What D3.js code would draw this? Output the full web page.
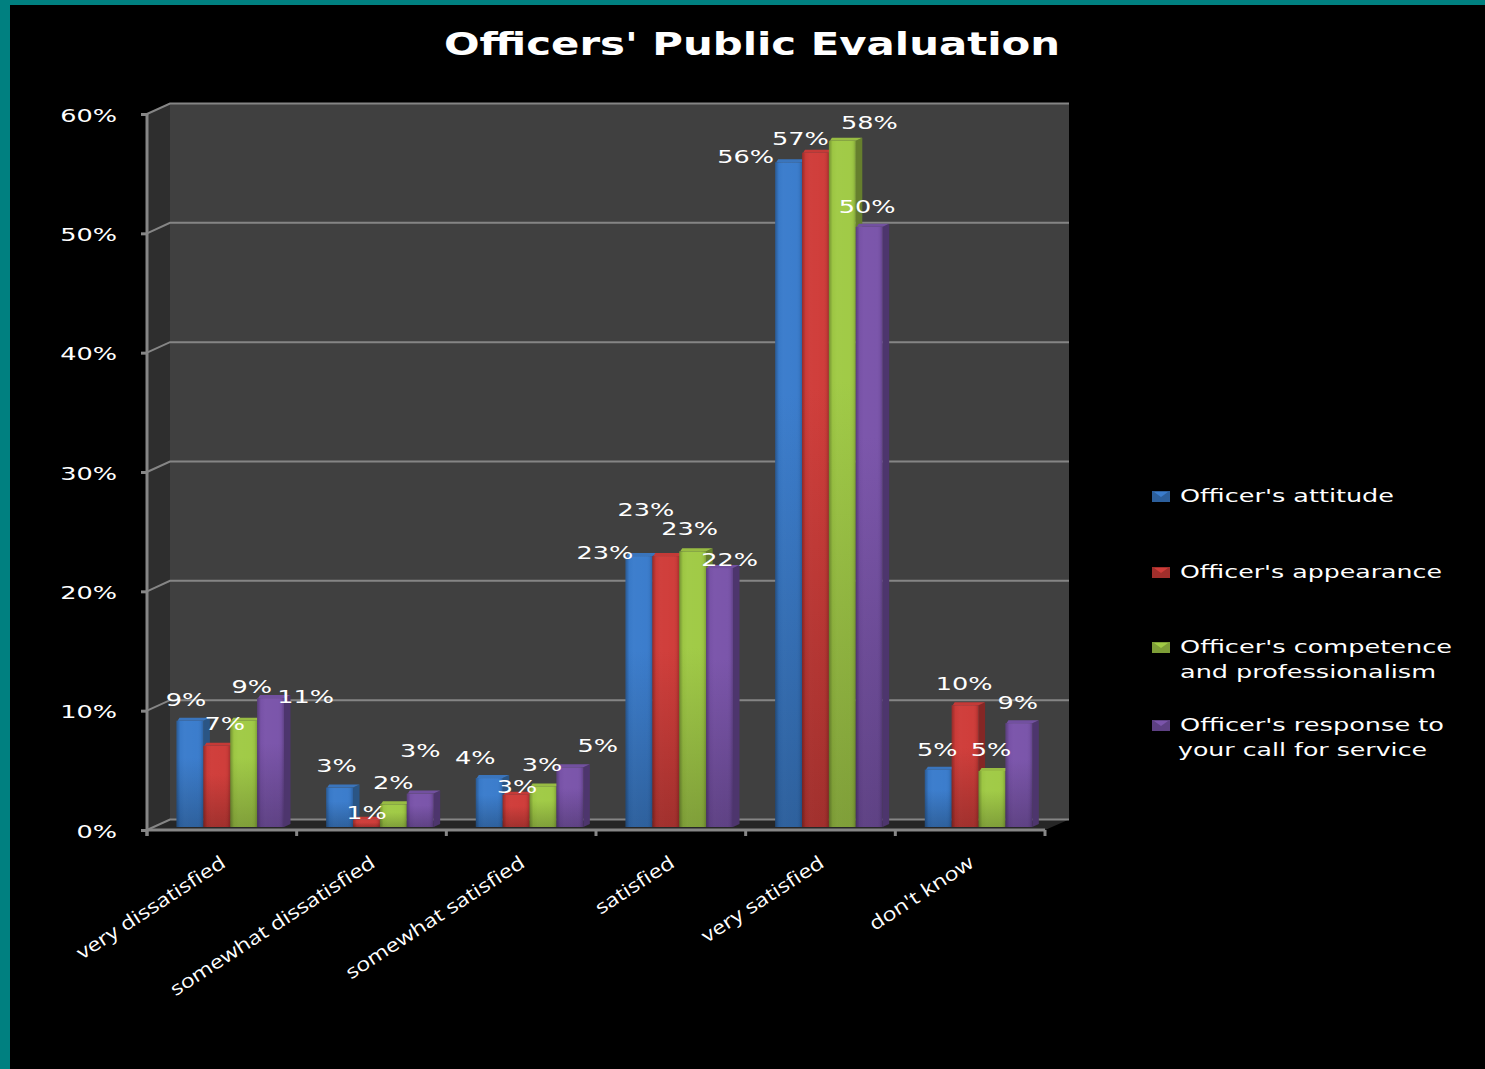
<!DOCTYPE html>
<html><head><meta charset="utf-8">
<script src="https://cdn.jsdelivr.net/npm/d3@7"></script>
<style>
html,body{margin:0;padding:0;background:#000;overflow:hidden}
svg{display:block}
text{fill:#fff;font-family:"DejaVu Sans",sans-serif}
</style></head><body>
<svg id="c" width="1485" height="1069"></svg>
<script>
// ---- data ----
const categories = ["very dissatisfied","somewhat dissatisfied","somewhat satisfied","satisfied","very satisfied","don't know"];
const attitude    = [8.9, 3.3, 4.1, 22.7, 55.7, 4.8];
const appearance  = [6.8, 0.6, 2.7, 22.7, 56.5, 10.2];
const competence  = [8.9, 1.9, 3.4, 23.1, 57.5, 4.7];
const response    = [10.8, 2.8, 5.0, 21.7, 50.3, 8.7];
const seriesNames = [["Officer's attitude"],["Officer's appearance"],["Officer's competence","and professionalism"],["Officer's response to","your call for service"]];
const yTicks = [0,10,20,30,40,50,60];
const title = "Officers' Public Evaluation";

// ---- layout and style ----
const seriesValues = [attitude, appearance, competence, response];
const colors = [
  {hi:"#3a7ccc",lo:"#2c5f9c",side:"#2a5585",top:"#3a75bd"},
  {hi:"#cf3c39",lo:"#a02e2b",side:"#852725",top:"#c53a37"},
  {hi:"#a0ca45",lo:"#7e9e37",side:"#667f2d",top:"#98bc43"},
  {hi:"#7a54aa",lo:"#5d4083",side:"#4d356d",top:"#7250a0"}
];
// data label nudges from each bar's top centre, by series then category
const labelNudge = [
  [[-4,-22],[-3,-23],[-14,-21],[-34,-4],[-43,-6],[-1,-21]],
  [[8,-23],[0,-8],[1,-9],[-20,-47],[-15,-15],[-1,-22]],
  [[8,-35],[0,-22],[-1,-22],[-3,-23],[27,-19],[-1,-22]],
  [[35,-2],[0,-44],[28,-22],[10,-9],[-2,-21],[-1,-21]]
];
const legendRows = [[502],[578],[653,678],[731,756]];
const legendWidths = [[214],[262],[272,256],[264,249]];
const W = 1485, H = 1069;
const left = 147, right = 1045, floorY = 830, topY = 114;
const depthX = 23, depthY = 10.5;
const svg = d3.select("#c");

svg.append("rect").attr("width",W).attr("height",H).attr("fill","#000");
svg.append("rect").attr("width",W).attr("height",5).attr("fill","#008080");
svg.append("rect").attr("width",10).attr("height",H).attr("fill","#008080");

const y = d3.scaleLinear().domain([0,60]).range([floorY,topY]);
const x = d3.scaleBand().domain(categories).range([left,right]);
const xs = d3.scaleBand().domain(d3.range(4)).range([29.5,29.5+107.5]);
const barBase = -3; // bars stand slightly behind the front edge of the floor
const poly = pts => pts.map(p=>p.join(",")).join(" ");
const backRight = right+depthX+1;

// walls
svg.append("polygon").attr("points",poly([[left+depthX,y(60)-depthY],[backRight,y(60)-depthY],[backRight,floorY-depthY],[left+depthX,floorY-depthY]])).attr("fill","#404040");
svg.append("polygon").attr("points",poly([[left,y(60)],[left+depthX,y(60)-depthY],[left+depthX,floorY-depthY],[left,floorY]])).attr("fill","#2e2e2e");
svg.append("polygon").attr("points",poly([[left,floorY],[left+depthX,floorY-depthY],[backRight,floorY-depthY],[right,floorY]])).attr("fill","#262626");

// gridlines on the walls
const grid = svg.append("g").attr("fill","none").attr("stroke","#858585").attr("stroke-width",2);
grid.selectAll("polyline").data(yTicks).join("polyline")
  .attr("points",d=>poly([[left,y(d)],[left+depthX,y(d)-depthY],[backRight,y(d)-depthY]]));

// gradients
const defs = svg.append("defs");
colors.forEach((c,i)=>{
  const g = defs.append("linearGradient").attr("id","g"+i).attr("x1",0).attr("x2",0).attr("y1",0).attr("y2",1);
  g.append("stop").attr("offset",0).attr("stop-color",c.hi);
  g.append("stop").attr("offset",.35).attr("stop-color",c.hi);
  g.append("stop").attr("offset",1).attr("stop-color",c.lo);
});
const bev = defs.append("linearGradient").attr("id","bevel");
[[0,"#000",.28],[.14,"#000",.02],[.3,"#fff",.02],[.75,"#fff",.01],[.9,"#000",.04],[1,"#000",.2]].forEach(s=>
  bev.append("stop").attr("offset",s[0]).attr("stop-color",s[1]).attr("stop-opacity",s[2]));

// axes
const axisY = d3.axisLeft(y).tickValues(yTicks).tickSize(6).tickFormat(d=>d+"%");
const gy = svg.append("g").attr("transform",`translate(${left},0)`).call(axisY);
const axisX = d3.axisBottom(x).tickSize(0).tickFormat("");
const gx = svg.append("g").attr("transform",`translate(0,${floorY})`).call(axisX);
gy.selectAll("path,line").attr("stroke","#868686").attr("stroke-width",3);
gy.select("path").attr("d",`M0,${y(60)}V${floorY+6}`);
gx.select("path").attr("stroke","#868686").attr("stroke-width",3).attr("d",`M${left},0H${right}`);
gx.selectAll(".tick").remove();
gx.selectAll("line.sep").data(categories.concat("end")).join("line").attr("class","sep")
  .attr("x1",(d,i)=>left+i*x.step()).attr("x2",(d,i)=>left+i*x.step())
  .attr("y1",0).attr("y2",6).attr("stroke","#868686").attr("stroke-width",3);

// horizontally stretched text, as in the reference
const stretch = (sel,k)=>sel.each(function(){
  this.setAttribute("textLength",this.getComputedTextLength()*k);
  this.setAttribute("lengthAdjust","spacingAndGlyphs");
});

gy.selectAll("text").attr("x",-30).attr("dy",null).attr("y",7)
  .attr("fill","#fff").style("font-size","18px").style("font-family","DejaVu Sans")
  .attr("text-anchor","end").call(stretch,1.42);

// bars
const rows = seriesValues.flatMap((vals,s)=>vals.map((v,i)=>({s,i,v,cat:categories[i]})));
const bars = svg.append("g");
const bx = d=>x(d.cat)+xs(d.s), bw = xs.bandwidth();
const by = d=>y(d.v)+barBase;
const dX = 6.5, dY = 3;
rows.forEach(d=>{
  const g = bars.append("g"), c = colors[d.s], b = floorY+barBase, X=bx(d), Y=by(d);
  g.append("polygon").attr("fill",c.side).attr("points",poly([[X+bw,Y],[X+bw+dX,Y-dY],[X+bw+dX,b-dY],[X+bw,b]]));
  g.append("polygon").attr("fill",c.top).attr("points",poly([[X+1,Y],[X+3,Y-dY],[X+bw+dX,Y-dY],[X+bw,Y]]));
  g.append("rect").attr("x",X).attr("y",Y).attr("width",bw).attr("height",b-Y).attr("fill",`url(#g${d.s})`);
  g.append("rect").attr("x",X).attr("y",Y).attr("width",bw).attr("height",b-Y).attr("fill","url(#bevel)");
});

// data labels
svg.append("g").selectAll("text").data(rows).join("text")
  .attr("x",d=>bx(d)+bw/2+labelNudge[d.s][d.i][0])
  .attr("y",d=>by(d)+labelNudge[d.s][d.i][1]+7)
  .attr("text-anchor","middle").style("font-size","18px")
  .text(d=>d3.format(".0f")(d.v)+"%").call(stretch,1.42);

// category labels
svg.append("g").selectAll("text").data(categories).join("text")
  .attr("transform",d=>`translate(${x(d)+x.bandwidth()/2+5},${floorY+36}) rotate(-33)`)
  .attr("text-anchor","end").style("font-family","'Open Sans'").style("font-size","19px").attr("fill","#e8e8e8")
  .text(d=>d).call(stretch,1.22);

// title
svg.append("text").attr("x",444).attr("y",55).style("font-size","32px").style("font-weight","bold")
  .attr("textLength",616).attr("lengthAdjust","spacingAndGlyphs").text(title);

// legend
const lg = svg.append("g");
seriesNames.forEach((lines,s)=>{
  const c = colors[s], top = legendRows[s][0]-11, g = lg.append("g");
  g.append("rect").attr("x",1152).attr("y",top).attr("width",18).attr("height",11).attr("fill",c.lo);
  g.append("polygon").attr("points",poly([[1154,top+1],[1168,top+1],[1161,top+6]])).attr("fill",c.hi);
  lines.forEach((ln,j)=>{
    g.append("text").attr("x",j==1&&s==3?1178:1180).attr("y",legendRows[s][j]).style("font-size","18px")
      .attr("textLength",legendWidths[s][j]).attr("lengthAdjust","spacingAndGlyphs").text(ln);
  });
});
</script>
</body></html>
